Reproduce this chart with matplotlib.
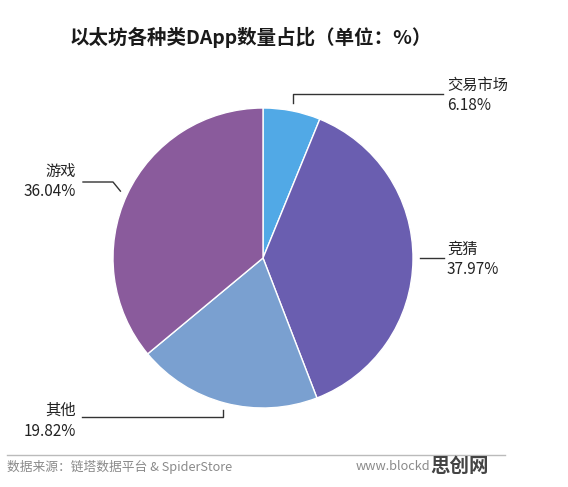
import numpy as np
import matplotlib
matplotlib.use('Agg')
import matplotlib.pyplot as plt

plt.rcParams['font.family'] = ['Noto Sans CJK SC', 'DejaVu Sans']

# data
categories = ['交易市场', '竞猜', '其他', '游戏']
shares = [6.18, 37.97, 19.82, 36.04]
colors = ['#51a9e6', '#6a5eb0', '#7aa0d0', '#8a5b9c']

W, H = 568, 487
fig = plt.figure(figsize=(W / 100, H / 100), dpi=100)
ax = fig.add_axes([0, 0, 1, 1])

# pie in pixel units (y measured upward)
cx, cy, r = 263, H - 258, 150
wedges, _ = ax.pie(shares, colors=colors, startangle=90, counterclock=False,
                   center=(cx, cy), radius=r, frame=True,
                   wedgeprops=dict(edgecolor='white', linewidth=1))
ax.set_xlim(0, W)
ax.set_ylim(0, H)
ax.set_aspect('equal')
ax.axis('off')

def up(y):
    return H - y

# leader line path after the anchor point, and label position (image px)
leaders = {
    '交易市场': ([(293, 94), (443, 94)], (447, 85, 'left')),
    '竞猜': ([(444, 258)], (447, 249, 'left')),
    '其他': ([(223, 417), (82, 417)], (76, 410, 'right')),
    '游戏': ([(113, 182), (83, 182)], (76, 171, 'right')),
}

for w, cat, val in zip(wedges, categories, shares):
    mid = np.deg2rad((w.theta1 + w.theta2) / 2)
    ax0 = cx + 1.05 * r * np.cos(mid)
    ay0 = cy + 1.05 * r * np.sin(mid)
    pts, (tx, ty, ha) = leaders[cat]
    xs = [ax0] + [p[0] for p in pts]
    ys = [ay0] + [up(p[1]) for p in pts]
    if cat in ('交易市场', '其他'):
        xs[0] = xs[1]
    if cat == '竞猜':
        ys[0] = ys[1]
    ax.plot(xs, ys, color='#333333', lw=1)
    ax.text(tx, up(ty), cat, ha=ha, va='center', fontsize=11, color='#222222')
    ax.text(tx, up(ty + 21), f'{val:.2f}%', ha=ha, va='center', fontsize=11,
            color='#222222')

# title
ax.text(251, up(37), '以太坊各种类DApp数量占比（单位：%）', ha='center', va='center',
        fontsize=14, fontweight='bold', color='#1a1a1a')

# footer
ax.plot([7, 505], [up(455), up(455)], color='#bbbbbb', lw=1)
ax.text(7, up(467), '数据来源：链塔数据平台 & SpiderStore', ha='left', va='center',
        fontsize=9.2, color='#8a8a8a')
ax.text(430, up(467), 'www.blockd', ha='right', va='center', fontsize=9.2,
        color='#8a8a8a')
ax.text(430, up(466), '思创网', ha='left', va='center', fontsize=14,
        fontweight='bold', color='#444444')

fig.savefig('out.png', dpi=100)
